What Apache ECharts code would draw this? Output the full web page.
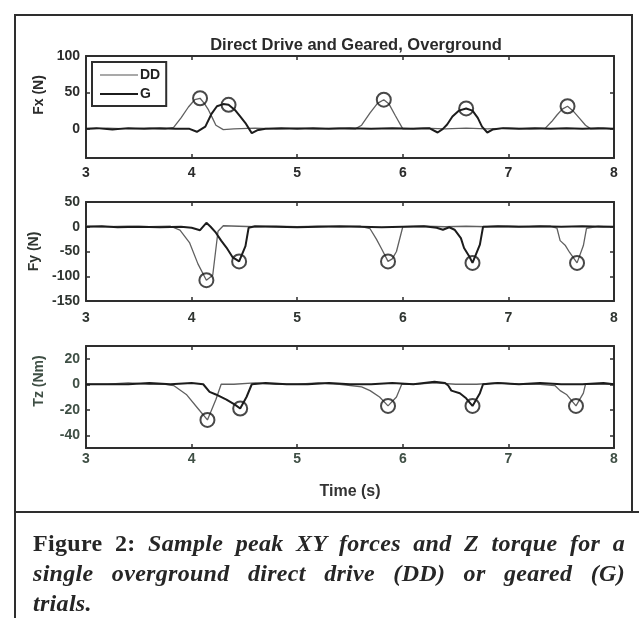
<!DOCTYPE html>
<html>
<head>
<meta charset="utf-8">
<script src="https://cdn.jsdelivr.net/npm/echarts@6/dist/echarts.min.js"></script>
<style>
  html, body { margin: 0; padding: 0; background: #fff; }
  #wrap { position: relative; width: 639px; height: 618px; overflow: hidden; background: #fff; }
  #chart { position: absolute; left: 0; top: 0; width: 639px; height: 618px; }
  .ln { position: absolute; background: #2e2e2e; }
  #caption {
    position: absolute; left: 33px; top: 528px; width: 592px;
    font-family: "Liberation Serif", "Times New Roman", serif;
    font-size: 24px; line-height: 30px; font-weight: bold; color: #262626; letter-spacing: 0.3px;
  }
  #caption div { white-space: nowrap; }
  #caption .j { text-align: justify; text-align-last: justify; }
  #caption i { font-style: italic; }
</style>
</head>
<body>
<div id="wrap">
  <div id="chart"></div>
  <div class="ln" style="left:14px;top:14px;width:2px;height:604px;"></div>
  <div class="ln" style="left:14px;top:14px;width:618px;height:2px;"></div>
  <div class="ln" style="left:631px;top:14px;width:2px;height:498px;"></div>
  <div class="ln" style="left:14px;top:511px;width:625px;height:2px;"></div>
  <div id="caption">
    <div class="j">Figure 2: <i>Sample peak XY forces and Z torque for a</i></div>
    <div class="j"><i>single overground direct drive (DD) or geared (G)</i></div>
    <div><i>trials.</i></div>
  </div>
</div>
<script>
// ---------- data (time in s, value) ----------
const chartTitle = 'Direct Drive and Geared, Overground';
const seriesNames = ['DD', 'G'];
const panelNames = ['Fx (N)', 'Fy (N)', 'Tz (Nm)'];
const xAxisName = 'Time (s)';
const timeTicks = [3, 4, 5, 6, 7, 8];
const fxTicks = [0, 50, 100];
const fyTicks = [-150, -100, -50, 0, 50];
const tzTicks = [-40, -20, 0, 20];

const fxDD = [[3.0,0],[3.2,1],[3.4,0],[3.6,1],[3.75,0],[3.83,2],[3.9,15],[3.97,30],[4.03,40],[4.08,42],[4.12,35],[4.16,26],[4.2,14],[4.23,5],[4.3,-1],[4.4,0],[4.6,1],[4.8,0],[5.0,1],[5.2,0],[5.4,1],[5.55,0],[5.61,5],[5.69,22],[5.76,35],[5.82,40],[5.87,34],[5.93,18],[6.0,0],[6.2,1],[6.4,0],[6.6,1],[6.8,0],[7.0,1],[7.2,0],[7.35,1],[7.41,10],[7.46,19],[7.51,27],[7.56,31],[7.61,25],[7.67,15],[7.73,5],[7.78,0],[7.9,1],[8.0,0]];
const fxG = [[3.0,0],[3.1,1],[3.25,-1],[3.4,1],[3.55,0],[3.7,1],[3.85,0],[3.98,0],[4.05,-4],[4.13,3],[4.19,21],[4.24,31],[4.3,34],[4.35,33],[4.41,26],[4.46,17],[4.51,8],[4.54,1],[4.57,-6],[4.62,-2],[4.7,0],[4.85,1],[5.0,0],[5.15,1],[5.3,0],[5.5,1],[5.7,0],[5.9,1],[6.1,0],[6.25,1],[6.33,-5],[6.38,0],[6.42,6],[6.47,17],[6.53,25],[6.6,28],[6.66,25],[6.71,15],[6.75,3],[6.8,-5],[6.85,-1],[6.95,1],[7.1,0],[7.25,1],[7.4,0],[7.55,1],[7.7,0],[7.85,1],[8.0,0]];
const fxPeaks = [[4.08,42],[4.35,33],[5.82,40],[6.6,28],[7.56,31]];

const fyDD = [[3.0,1],[3.2,0],[3.4,1],[3.6,0],[3.8,1],[3.89,-7],[3.98,-32],[4.06,-75],[4.14,-108],[4.2,-98],[4.25,-9],[4.3,2],[4.45,1],[4.6,0],[4.8,1],[5.0,0],[5.2,1],[5.4,0],[5.6,1],[5.69,-4],[5.75,-25],[5.8,-45],[5.86,-70],[5.9,-65],[5.94,-50],[6.0,0],[6.2,1],[6.4,0],[6.6,1],[6.8,0],[7.0,1],[7.2,0],[7.4,1],[7.46,-3],[7.49,-28],[7.54,-38],[7.58,-52],[7.65,-73],[7.71,-38],[7.74,-3],[7.85,1],[8.0,0]];
const fyG = [[3.0,0],[3.15,1],[3.3,-1],[3.5,0],[3.7,-1],[3.9,0],[4.0,-2],[4.08,-7],[4.14,8],[4.18,0],[4.23,-12],[4.28,-28],[4.33,-42],[4.39,-62],[4.45,-70],[4.51,-39],[4.54,-2],[4.6,1],[4.8,0],[5.0,-1],[5.2,0],[5.4,1],[5.6,0],[5.8,-1],[6.0,0],[6.2,1],[6.32,-2],[6.38,-6],[6.44,-1],[6.49,-6],[6.55,-23],[6.58,-43],[6.63,-60],[6.66,-73],[6.73,-36],[6.76,0],[6.9,1],[7.1,0],[7.3,1],[7.5,0],[7.7,1],[7.9,0],[8.0,0]];
const fyPeaks = [[4.14,-108],[4.45,-70],[5.86,-70],[6.66,-73],[7.65,-73]];

const tzDD = [[3.0,0],[3.2,0],[3.4,1],[3.6,0],[3.75,0],[3.83,-1],[3.95,-8],[4.06,-19],[4.15,-28],[4.23,-12],[4.28,0],[4.4,0],[4.6,1],[4.8,0],[5.0,0],[5.2,1],[5.4,0],[5.61,-2],[5.69,-5],[5.78,-10],[5.86,-17],[5.94,-10],[5.99,0],[6.1,0],[6.3,1],[6.5,0],[6.7,0],[6.9,1],[7.1,0],[7.3,0],[7.44,-1],[7.49,-5],[7.55,-8],[7.64,-17],[7.71,-7],[7.73,0],[7.85,0],[8.0,0]];
const tzG = [[3.0,0],[3.2,0],[3.4,0],[3.6,1],[3.8,0],[4.0,1],[4.11,0],[4.17,-6],[4.23,-8],[4.33,-12],[4.41,-16],[4.46,-19],[4.52,-10],[4.57,0],[4.7,1],[4.9,0],[5.1,0],[5.3,1],[5.5,0],[5.7,0],[5.9,1],[6.1,0],[6.3,2],[6.4,1],[6.43,-1],[6.46,-5],[6.54,-7],[6.6,-11],[6.66,-17],[6.73,-7],[6.76,0],[6.9,1],[7.1,0],[7.3,1],[7.5,0],[7.7,0],[7.9,1],[8.0,0]];
const tzPeaks = [[4.15,-28],[4.46,-19],[5.86,-17],[6.66,-17],[7.64,-17]];

// ---------- styling / layout ----------
const FONT = '"Liberation Sans", Arial, sans-serif';
const AX = '#2e2e2e';
const DD_COLOR = '#606060';
const DD_LEGEND = '#a9a9a9';
const G_COLOR = '#1c1c1c';
const panels = [
  { name: panelNames[0], dd: fxDD, g: fxG, peaks: fxPeaks, min: -40, max: 100, ticks: fxTicks, top: 56, height: 102, xMargin: 8, color: '#2b2b2b', nameShift: 24 },
  { name: panelNames[1], dd: fyDD, g: fyG, peaks: fyPeaks, min: -150, max: 50, ticks: fyTicks, top: 202, height: 99, xMargin: 10, color: '#2f3531', nameShift: 0 },
  { name: panelNames[2], dd: tzDD, g: tzG, peaks: tzPeaks, min: -50, max: 30, ticks: tzTicks, top: 346, height: 102, xMargin: 4, color: '#3f4f45', nameShift: 32 }
];

const grids = [], xAxes = [], yAxes = [], series = [];
const labelStyle = (c, s) => ({ fontFamily: FONT, fontWeight: 'bold', fontSize: s || 14, color: c });

panels.forEach((p, i) => {
  grids.push({ left: 86, width: 528, top: p.top, height: p.height });
  xAxes.push({
    type: 'value', gridIndex: i, min: timeTicks[0], max: timeTicks[timeTicks.length - 1], interval: 1,
    position: 'bottom',
    axisLine: { show: true, onZero: false, lineStyle: { color: AX, width: 2 } },
    axisTick: { show: true, inside: true, length: 4, lineStyle: { color: AX, width: 1.5 } },
    axisLabel: Object.assign({ margin: p.xMargin }, labelStyle(p.color)),
    splitLine: { show: false },
    name: i === 2 ? xAxisName : '', nameLocation: 'middle', nameGap: 36,
    nameTextStyle: labelStyle('#333', 16)
  });
  yAxes.push({
    type: 'value', gridIndex: i, min: p.min, max: p.max,
    axisLine: { show: true, onZero: false, lineStyle: { color: AX, width: 2 } },
    axisTick: { show: true, inside: true, length: 4, customValues: p.ticks, lineStyle: { color: AX, width: 1.5 } },
    axisLabel: Object.assign({ margin: 6, customValues: p.ticks }, labelStyle(p.color)),
    splitLine: { show: false },
    name: p.name, nameLocation: 'middle', nameGap: 40, nameRotate: 90,
    nameTextStyle: Object.assign({ padding: [0, 0, 0, p.nameShift] }, labelStyle(p.color))
  });
});
panels.forEach((p, i) => {
  xAxes.push({
    type: 'value', gridIndex: i, min: timeTicks[0], max: timeTicks[timeTicks.length - 1], interval: 1,
    position: 'top',
    axisLine: { show: true, onZero: false, lineStyle: { color: AX, width: 2 } },
    axisTick: { show: true, inside: true, length: 4, lineStyle: { color: AX, width: 1.5 } },
    axisLabel: { show: false }, splitLine: { show: false }
  });
  yAxes.push({
    type: 'value', gridIndex: i, min: p.min, max: p.max, position: 'right',
    axisLine: { show: true, onZero: false, lineStyle: { color: AX, width: 2 } },
    axisTick: { show: true, inside: true, length: 4, customValues: p.ticks, lineStyle: { color: AX, width: 1.5 } },
    axisLabel: { show: false }, splitLine: { show: false }
  });
});

panels.forEach((p, i) => {
  series.push({
    name: seriesNames[0], type: 'line', xAxisIndex: i, yAxisIndex: i, data: p.dd,
    symbol: 'none', lineStyle: { color: DD_COLOR, width: 1.3 }, itemStyle: { color: DD_COLOR }, z: 2
  });
  series.push({
    name: seriesNames[1], type: 'line', xAxisIndex: i, yAxisIndex: i, data: p.g,
    symbol: 'none', lineStyle: { color: G_COLOR, width: 2 }, itemStyle: { color: G_COLOR }, z: 3
  });
  series.push({
    name: 'peaks' + i, type: 'scatter', xAxisIndex: i, yAxisIndex: i, data: p.peaks,
    symbol: 'circle', symbolSize: 14,
    itemStyle: { color: 'rgba(0,0,0,0)', borderColor: '#1a1a1a', borderWidth: 2 }, z: 4
  });
});

const chart = echarts.init(document.getElementById('chart'), null, { renderer: 'canvas' });
chart.setOption({
  animation: false,
  backgroundColor: 'transparent',
  title: {
    text: chartTitle, left: 351, top: 32, textAlign: 'center',
    textStyle: { fontFamily: FONT, fontWeight: 'bold', fontSize: 16.5, color: '#2a2a2a' }
  },
  legend: {
    data: [
      { name: seriesNames[0], icon: 'rect', itemStyle: { color: DD_LEGEND } },
      { name: seriesNames[1], icon: 'rect', itemStyle: { color: G_COLOR } }
    ],
    orient: 'vertical', left: 92, top: 62,
    backgroundColor: '#fff', borderColor: AX, borderWidth: 2, borderRadius: 0,
    padding: [5, 6, 4, 8], itemGap: 3, itemWidth: 38, itemHeight: 2,
    textStyle: { fontFamily: FONT, fontWeight: 'bold', fontSize: 14, color: '#222', lineHeight: 16, padding: [0, 0, 0, -3] }
  },
  grid: grids,
  xAxis: xAxes,
  yAxis: yAxes,
  series: series
});
</script>
</body>
</html>
